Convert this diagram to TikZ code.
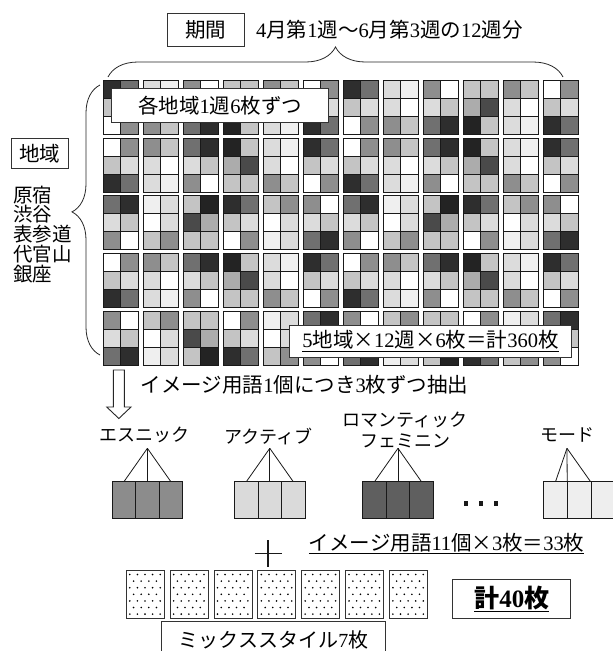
\documentclass[tikz,border=0pt]{standalone}
\usepackage{fontspec}
\setmainfont{Liberation Serif}
\newfontfamily\jp{Noto Sans CJK JP}
\usetikzlibrary{decorations.pathreplacing}
\newcommand\dg[1]{{\rmfamily #1}}
\newcommand\tm{\makebox[1em]{×}}
\definecolor{cW}{HTML}{FFFFFF}
\definecolor{cE}{HTML}{EFEFEF}
\definecolor{cL}{HTML}{DCDCDC}
\definecolor{cS}{HTML}{C4C4C4}
\definecolor{cA}{HTML}{ACACAC}
\definecolor{cM}{HTML}{8E8E8E}
\definecolor{cG}{HTML}{707070}
\definecolor{cD}{HTML}{4A4A4A}
\definecolor{cK}{HTML}{2E2E2E}
\definecolor{cB}{HTML}{232323}
\definecolor{fanA}{HTML}{8C8C8C}
\definecolor{fanB}{HTML}{DADADA}
\definecolor{fanC}{HTML}{5F5F5F}
\definecolor{fanD}{HTML}{EEEEEE}
\begin{document}
\begin{tikzpicture}[x=1pt,y=-1pt,
  every node/.style={font=\jp\fontsize{20.5}{24}\selectfont, inner sep=0pt},
  lbox/.style={draw=black!80, line width=0.9pt, fill=white},
  cellst/.style={draw=black!90, line width=0.9pt},
  fanline/.style={draw=black!90, line width=0.8pt},
  bracest/.style={draw=black!85, line width=0.8pt, decorate},
  katalabel/.style={font=\jp\fontsize{18}{20}\selectfont},
  dotcard/.style={draw=black!80, line width=0.8pt, fill=white, minimum width=37.9pt, minimum height=47.6pt}]
\useasboundingbox (0,0) rectangle (613,651);
\clip (0,0) rectangle (613,651);

% ---- top label and brace
\node[lbox, minimum width=77pt, minimum height=33pt] (kikan) at (205.5,29.5) {期間};
\node[anchor=west] (kikantxt) at (256,30) {\dg{4}月第\dg{1}週〜\dg{6}月第\dg{3}週の\dg{12}週分};
\draw[bracest, decoration={brace, amplitude=30pt}] (108,77) -- (563,77);

% ---- grid of cards
\foreach \r/\seq in {0/{K,G,L,E,M,W,S,S,M,S,W,M}, 1/{S,L,L,W,L,S,A,D,L,W,S,L}, 2/{W,M,M,S,G,K,B,S,L,E,K,G},
  3/{W,M,M,S,G,K,B,S,L,E,K,G}, 4/{S,L,L,W,L,S,A,D,L,W,S,L}, 5/{K,G,L,E,M,W,S,S,M,S,W,M},
  6/{G,K,E,L,S,B,K,G,S,M,M,W}, 7/{L,S,W,L,D,A,S,L,W,L,L,S}, 8/{M,W,S,M,S,S,W,M,E,L,G,K},
  9/{W,M,M,S,G,K,B,S,L,E,K,G}, 10/{S,L,L,W,L,S,A,D,L,W,S,L}, 11/{K,G,L,E,M,W,S,S,M,S,W,M},
  12/{M,W,S,M,S,S,W,M,E,L,G,K}, 13/{L,S,W,L,D,A,S,L,W,L,L,S}, 14/{G,K,E,L,S,B,K,G,S,M,M,W}}{
  \foreach \c [count=\i from 0] in \seq {
    \pgfmathsetmacro\cx{103.3+40*int(\i/2)+17.5*mod(\i,2)}
    \pgfmathsetmacro\cy{80.3+57.7*int(\r/3)+18*mod(\r,3)}
    \draw[cellst, fill=c\c] (\cx,\cy) rectangle ++(17.5,18);
    \draw[cellst, fill=c\c] (\cx+240,\cy) rectangle ++(17.5,18);
  }
}

% ---- labels over the grid
\node[lbox, minimum width=216.6pt, minimum height=33.3pt] (each) at (220,105.3) {各地域\dg{1}週\dg{6}枚ずつ};
\node[lbox, minimum width=282.7pt, minimum height=31.7pt] (total) at (430.4,341.2) {\underline{\dg{5}地域\tm\dg{12}週\tm\dg{6}枚＝計\dg{360}枚}};

% ---- left side
\node[lbox, minimum width=57pt, minimum height=30pt] (chiiki) at (40,153.3) {地域};
\node[anchor=north west, align=left, font=\jp\fontsize{19.5}{19.8}\selectfont] (areas) at (13,185.5) {原宿\\渋谷\\表参道\\代官山\\銀座};
\draw[bracest, decoration={brace, amplitude=28pt, aspect=0.53}] (100,355) -- (100,85);

% ---- hollow arrow
\draw[black!85, line width=0.9pt, fill=white] (113.4,370) -- (124.3,370) -- (124.3,407) -- (131,407) -- (118.85,418.5) -- (106.7,407) -- (113.4,407) -- cycle;
\node[anchor=west] (extract) at (140.7,385) {イメージ用語\dg{1}個につき\dg{3}枚ずつ抽出};

% ---- term groups
\node[katalabel] (t1) at (144.3,435) {エスニック};
\node[katalabel] (t2) at (268.7,436) {アクティブ};
\node[katalabel] (t3a) at (405,420) {ロマンティック};
\node[katalabel] (t3b) at (405,441) {フェミニン};
\node[katalabel] (t4) at (567.5,435) {モード};

\foreach \g/\L/\col in {1/112.2/fanA, 2/234.6/fanB, 3/362.8/fanC} {
  \coordinate (apex\g) at (\L+35.2,448.3);
  \foreach \k in {0,1,2} {
    \draw[cellst, fill=\col] (\L+23.47*\k,481.7) rectangle ++(23.47,36.6);
    \coordinate (top\g\k) at (\L+23.47*\k+11.73,481.7);
    \draw[fanline] (apex\g) -- (top\g\k);
  }
}
\coordinate (apex4) at (567,448.3);
\foreach \k in {0,1,2} {
  \draw[cellst, fill=fanD] (543.4+23.8*\k,481.7) rectangle ++(23.8,36.6);
}
\coordinate (top40) at (555.5,481.7);
\coordinate (top41) at (567.2,481.7);
\coordinate (top42) at (590.6,481.7);
\foreach \k in {0,1,2} {\draw[fanline] (apex4) -- (top4\k);}

% ---- ellipsis dots
\foreach \x in {466,481,495.7} {\fill[black!90] (\x-2.2,501.1) rectangle ++(4.4,4.4);}

% ---- plus and 33 label
\draw[black!90, line width=1.6pt] (254.5,553.3) -- (282,553.3) (268.2,540) -- (268.2,567);
\node (u33) at (446.7,543.3) {\underline{イメージ用語\dg{11}個\tm\dg{3}枚＝\dg{33}枚}};

% ---- mix style cards
\foreach \k in {0,...,6} {
  \pgfmathsetmacro\dx{126.3+43.85*\k}
  \node[dotcard] (mix\k) at (\dx+18.95,594.5) {};
  \foreach \j in {0,2,4,6} {\foreach \m in {0,...,4} {\fill[black] (\dx+3.5+7.6*\m,574.5+6.6*\j) circle (0.9);}}
  \foreach \j in {1,3,5} {\foreach \m in {0,...,3} {\fill[black] (\dx+7.3+7.6*\m,574.5+6.6*\j) circle (0.9);}}
}
\node[lbox, minimum width=224.3pt, minimum height=40pt, anchor=north] (mix) at (273.6,621) {};
\node[font=\jp\fontsize{20}{22}\selectfont] (mixtxt) at (273.6,639.5) {ミックススタイル\dg{7}枚};

% ---- total 40
\node[lbox, minimum width=118pt, minimum height=39pt] (k40) at (511.75,598.8) {\fontsize{25}{28}\selectfont\bfseries\underline{計\dg{40}枚}};
\end{tikzpicture}
\end{document}
